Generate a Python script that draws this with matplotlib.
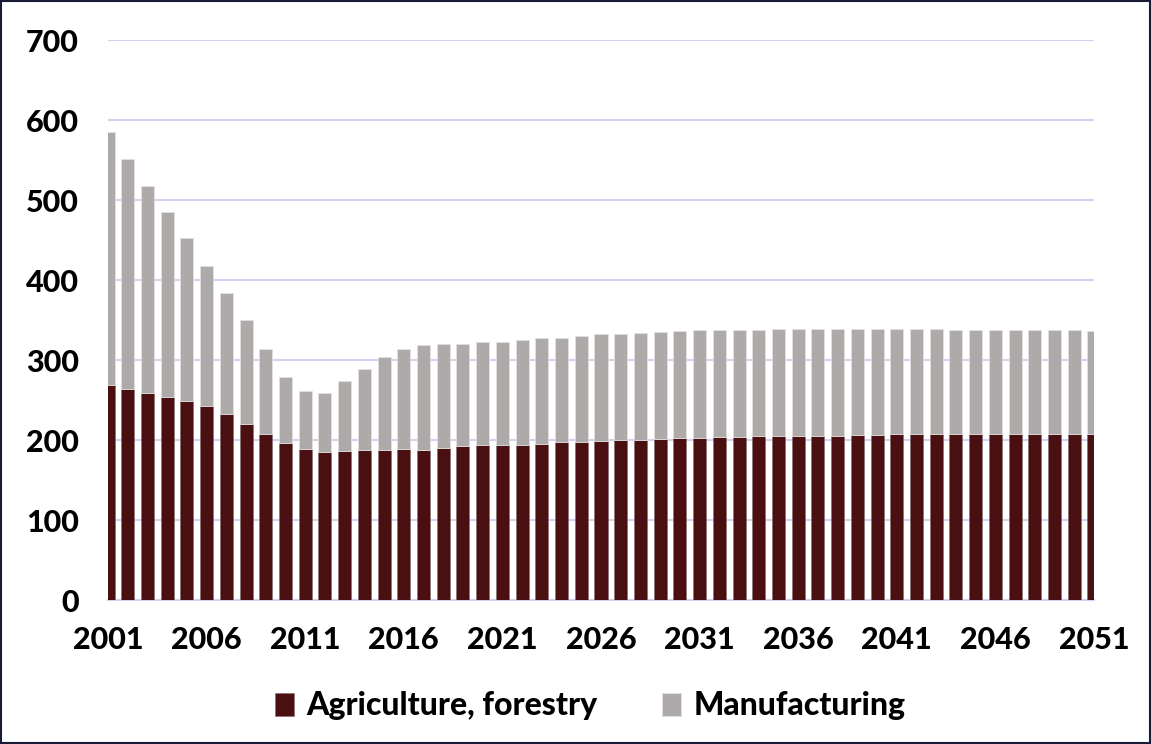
import matplotlib
matplotlib.use("Agg")
import matplotlib.pyplot as plt
import numpy as np

years = list(range(2001, 2052))
agriculture = [269, 264, 259, 254, 249, 242, 232, 220, 208, 196,
               189, 185, 186, 187, 188, 189, 188, 190, 192, 194,
               194, 194, 195, 197, 198, 199, 200, 200, 201, 202,
               203, 204, 204, 205, 205, 205, 205, 205, 206, 206,
               207, 207, 207, 207, 207, 207, 207, 207, 207, 207, 207]
total = [585, 551, 518, 485, 452, 418, 384, 350, 314, 279,
         261, 259, 274, 289, 304, 314, 319, 320, 320, 322,
         322, 325, 327, 328, 330, 332, 332, 334, 335, 336,
         337, 337, 338, 338, 339, 339, 339, 339, 339, 339,
         339, 339, 339, 338, 338, 338, 338, 338, 337, 337, 336]
manufacturing = [t - a for t, a in zip(total, agriculture)]
xtick_years = [2001, 2006, 2011, 2016, 2021, 2026, 2031, 2036, 2041, 2046, 2051]
yticks = [0, 100, 200, 300, 400, 500, 600, 700]

plt.rcParams['font.family'] = ['Lato', 'DejaVu Sans']
fig = plt.figure(figsize=(11.51, 7.44), dpi=100)
ax = fig.add_axes([108/1151, 144/744, (1094-108)/1151, 560/744])

c_agri = '#4A0F10'
c_man = '#AEAAA9'
ax.bar(years, agriculture, width=0.66, color=c_agri, edgecolor='#8a6a6a', linewidth=0.4,
       label='Agriculture, forestry', zorder=3)
ax.bar(years, manufacturing, bottom=agriculture, width=0.66, color=c_man,
       edgecolor='#e2e0e0', linewidth=0.6, label='Manufacturing', zorder=3)

ax.set_xlim(2001, 2051)
ax.set_ylim(0, 700)
ax.set_yticks(yticks)
ax.set_xticks(xtick_years)
ax.set_xticklabels([str(y) for y in xtick_years])
ax.grid(axis='y', color='#D4D0F2', linewidth=1.5, zorder=0)
ax.set_axisbelow(True)
for s in ['top', 'right', 'left']:
    ax.spines[s].set_visible(False)
ax.spines['bottom'].set_color('#D4D0F2')
ax.spines['bottom'].set_linewidth(1.5)
ax.tick_params(axis='both', length=0, labelsize=22)
ax.tick_params(axis='y', pad=21)
ax.tick_params(axis='x', pad=19)
for lab in ax.get_xticklabels() + ax.get_yticklabels():
    lab.set_fontweight('black')

leg = fig.legend(loc='center', bbox_to_anchor=(590/1151, 1 - 706/744), ncol=2, frameon=False,
                 prop={'size': 23, 'weight': 'black'}, handlelength=0.6, handleheight=0.75,
                 handletextpad=0.4, columnspacing=2.0)

border = plt.Rectangle((0.001, 0.001), 0.998, 0.997, transform=fig.transFigure, fill=False,
                       edgecolor='#1a1a3a', linewidth=1.5)
fig.patches.append(border)

fig.savefig('out.png', dpi=100)
